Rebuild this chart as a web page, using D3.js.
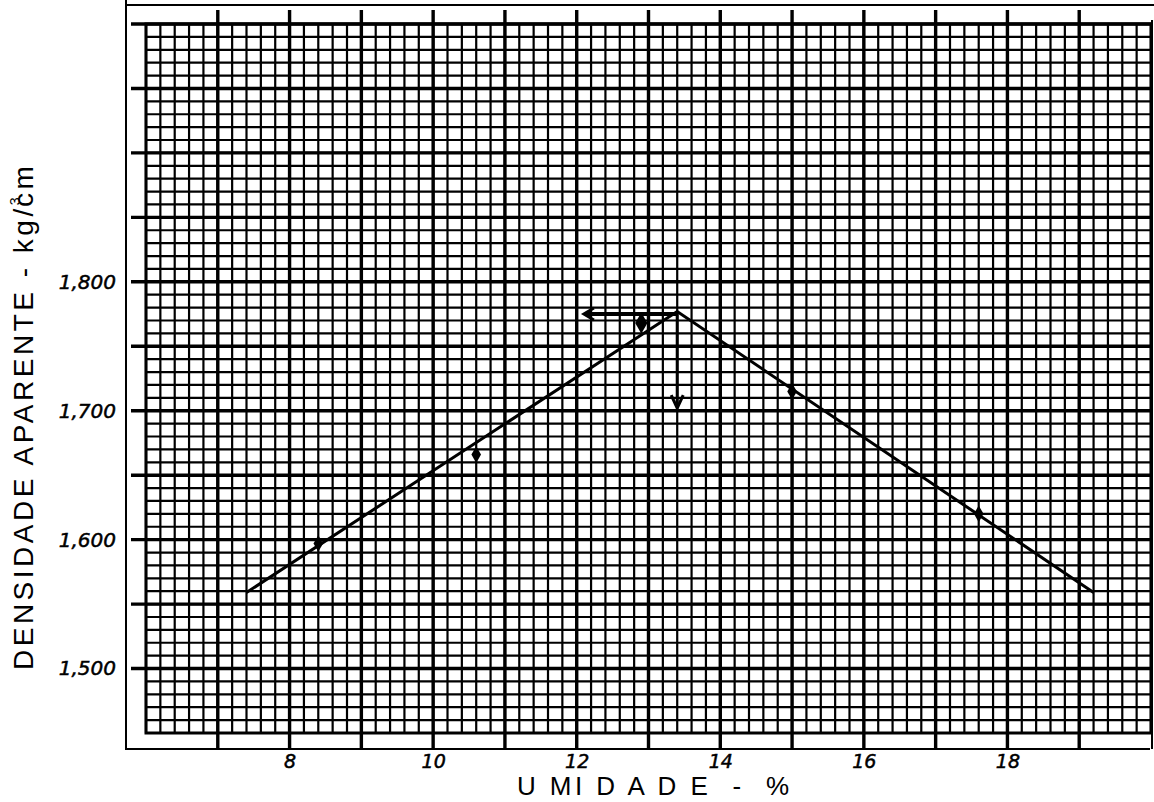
<!DOCTYPE html>
<html>
<head>
<meta charset="utf-8">
<script src="https://cdn.jsdelivr.net/npm/d3@7"></script>
<style>
  html, body { margin: 0; padding: 0; background: #fff; }
  svg { display: block; }
</style>
</head>
<body>
<svg id="chart" width="1154" height="802"></svg>
<script>
// ---- data ----
const xTickValues = [8, 10, 12, 14, 16, 18];
const xTickLabels = ["8", "10", "12", "14", "16", "18"];
const yTickValues = [1.5, 1.6, 1.7, 1.8];
const yTickLabels = ["1,500", "1,600", "1,700", "1,800"];
const curveMoisture = [7.4, 13.4, 19.2];
const curveDensity = [1.559, 1.777, 1.559];
const sampleMoisture = [8.4, 10.6, 12.9, 15.0, 17.6];
const sampleDensity = [1.597, 1.666, 1.768, 1.715, 1.620];
const optimumMoisture = [13.4];
const maxDensity = [1.775];
const arrowLeftEnd = [12.1];
const arrowDownEnd = [1.702];
const xTitle = "U MI D A D E  -  %";
const yTitle = "DENSIDADE APARENTE - kg/";

// ---- layout ----
const svg = d3.select("#chart");
const gx0 = 146, gx1 = 1151, gy0 = 24, gy1 = 733;
const x = d3.scaleLinear().domain([6, 20]).range([gx0, gx1]);
const y = d3.scaleLinear().domain([1.45, 2.0]).range([gy1, gy0]);

svg.append("rect").attr("width", 1154).attr("height", 802).attr("fill", "#fff");

// outer frame lines
const frame = svg.append("g").attr("stroke", "#000").attr("stroke-width", 2);
frame.append("line").attr("x1", 126).attr("x2", 126).attr("y1", 0).attr("y2", 750);
frame.append("line").attr("x1", 126).attr("x2", 1154).attr("y1", 5).attr("y2", 5);
frame.append("line").attr("x1", 126).attr("x2", 1150).attr("y1", 749).attr("y2", 749);
frame.append("line").attr("x1", 1152).attr("x2", 1152).attr("y1", 20).attr("y2", 749);

// minor grid
const minorX = d3.range(0, 71).map(i => 6 + i * 0.2);
const minorY = d3.range(0, 56).map(i => 1.45 + i * 0.01);
const grid = svg.append("g").attr("stroke", "#000");
grid.selectAll(".mx").data(minorX).join("line")
  .attr("x1", d => x(d)).attr("x2", d => x(d))
  .attr("y1", gy0).attr("y2", gy1).attr("stroke-width", 2.2);
grid.selectAll(".my").data(minorY).join("line")
  .attr("y1", d => y(d)).attr("y2", d => y(d))
  .attr("x1", gx0).attr("x2", gx1).attr("stroke-width", 2.2);

// major grid with extensions
const majorX = d3.range(7, 20);
const majorY = d3.range(0, 11).map(i => 1.5 + i * 0.05);
grid.selectAll(".Mx").data(majorX).join("line")
  .attr("x1", d => x(d)).attr("x2", d => x(d))
  .attr("y1", 10).attr("y2", 749).attr("stroke-width", 3.4);
grid.selectAll(".My").data(majorY).join("line")
  .attr("y1", d => y(d)).attr("y2", d => y(d))
  .attr("x1", 131).attr("x2", gx1).attr("stroke-width", 3.4);
// grid border
grid.append("rect").attr("x", gx0).attr("y", gy0)
  .attr("width", gx1 - gx0).attr("height", gy1 - gy0)
  .attr("fill", "none").attr("stroke-width", 3);

// axes (labels only)
const xAxis = svg.append("g").attr("transform", `translate(0,${751})`)
  .call(d3.axisBottom(x).tickValues(xTickValues).tickSize(0)
    .tickFormat((d, i) => xTickLabels[i]));
xAxis.select(".domain").remove();
xAxis.selectAll("text")
  .attr("font-family", "DejaVu Sans").attr("font-style", "italic")
  .attr("font-size", 19).attr("fill", "#000")
  .attr("stroke", "#000").attr("stroke-width", 0.5);

const yAxis = svg.append("g").attr("transform", `translate(${119},0)`)
  .call(d3.axisLeft(y).tickValues(yTickValues).tickSize(0)
    .tickFormat((d, i) => yTickLabels[i]));
yAxis.select(".domain").remove();
yAxis.selectAll("text")
  .attr("font-family", "DejaVu Sans").attr("font-style", "italic")
  .attr("font-size", 20).attr("fill", "#000")
  .attr("stroke", "#000").attr("stroke-width", 0.5);

// curve
const line = d3.line().x(d => x(d[0])).y(d => y(d[1]));
svg.append("path")
  .datum(curveMoisture.map((m, i) => [m, curveDensity[i]]))
  .attr("d", line).attr("fill", "none")
  .attr("stroke", "#000").attr("stroke-width", 3);

// sample points
svg.selectAll(".pt").data(sampleMoisture.map((m, i) => [m, sampleDensity[i]]))
  .join("path")
  .attr("transform", d => `translate(${x(d[0])},${y(d[1])})`)
  .attr("d", (d, i) => d3.symbol().type(d3.symbolDiamond).size(i === 2 ? 130 : 80)())
  .attr("fill", "#000");

// arrows
const arr = svg.append("g").attr("stroke", "#000").attr("stroke-width", 4).attr("fill", "none");
const px = x(optimumMoisture[0]), py = y(maxDensity[0]);
const lx = x(arrowLeftEnd[0]);
arr.append("line").attr("x1", px).attr("y1", py).attr("x2", lx + 2).attr("y2", py);
arr.append("path").attr("stroke-width", 3)
  .attr("d", `M${lx + 10},${py - 6} L${lx},${py} L${lx + 10},${py + 6}`);
const dy = y(arrowDownEnd[0]);
arr.append("line").attr("stroke-width", 3).attr("x1", px).attr("y1", py).attr("x2", px).attr("y2", dy - 2);
arr.append("path").attr("stroke-width", 3)
  .attr("d", `M${px - 6},${dy - 13} L${px},${dy} L${px + 6},${dy - 13}`);

// titles
svg.append("text")
  .attr("x", 517).attr("y", 795)
  .attr("font-family", "Liberation Sans").attr("font-size", 26)
  .attr("fill", "#000").style("white-space", "pre")
  .attr("textLength", 272).attr("lengthAdjust", "spacing")
  .text(xTitle);

const yt = svg.append("text")
  .attr("transform", "translate(33,670) rotate(-90)")
  .attr("font-family", "Liberation Sans").attr("font-size", 28)
  .attr("letter-spacing", 3.5)
  .attr("fill", "#000");
yt.append("tspan").text(yTitle);
yt.append("tspan").attr("font-size", 14).attr("dy", -13).attr("dx", 0).text("3");
yt.append("tspan").attr("dy", 13).attr("dx", -13).text("cm");
</script>
</body>
</html>
